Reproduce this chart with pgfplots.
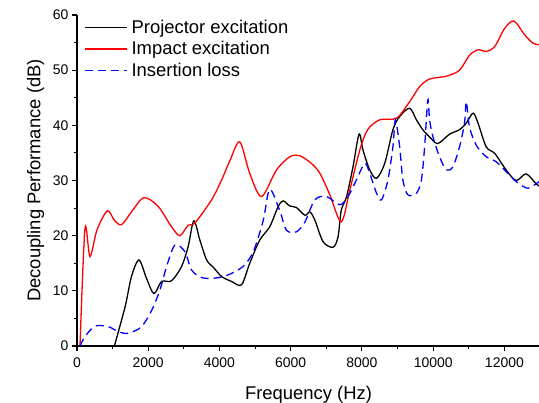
\documentclass[border=0pt]{standalone}
\usepackage{fontspec}
\setmainfont{Liberation Sans}
\usepackage{pgfplots}
\pgfplotsset{compat=1.18}

\begin{document}
\begin{tikzpicture}
\begin{axis}[
    scale only axis,
    width=463bp, height=331bp,
    xmin=0, xmax=13000,
    ymin=0, ymax=60,
    axis lines=left,
    axis line style={-, line width=1.1bp},
    tick align=outside,
    tick style={line width=1.1bp, black},
    major tick length=5bp,
    minor tick length=3bp,
    xtick={0,2000,...,12000},
    minor xtick={1000,3000,...,13000},
    ytick={0,10,...,60},
    minor ytick={5,15,...,55},
    scaled x ticks=false,
    /pgf/number format/assume math mode=true,
    /pgf/number format/set thousands separator={},
    tick label style={font=\fontsize{14}{16}\selectfont},
    xticklabel style={yshift=-3bp},
    label style={font=\fontsize{18.5}{20}\selectfont},
    xlabel={Frequency (Hz)},
    xlabel style={yshift=-12bp},
    ylabel={Decoupling Performance (dB)},
    ylabel style={yshift=2bp},
    legend cell align=left,
    legend style={at={(axis description cs:0,1)}, anchor=north west,
        xshift=4bp, yshift=-1bp, draw=none, fill=none,
        font=\fontsize{18.5}{20}\selectfont, row sep=2.5bp, column sep=2bp},
    legend image code/.code={\draw[#1, line width=1.4bp] (0bp,0bp) -- (42bp,0bp);},
    clip=true,
]
\addplot[black, line width=1.3bp, smooth] coordinates {
(1050,0)(1350,7.1)(1530,12.6)(1740,15.6)(1950,12.3)(2160,9.5)(2375,11.7)
(2650,11.8)(2935,14.4)(3120,18.0)(3280,22.7)(3450,19.2)(3640,15.6)(3825,14.3)
(4060,12.6)(4340,11.7)(4620,11.1)(4850,15.0)(5130,19.2)(5410,21.6)(5650,25.3)
(5790,26.3)(5970,25.4)(6160,25.1)(6400,23.7)(6540,24.3)(6680,22.8)(6910,18.9)
(7190,17.9)(7330,19.8)(7420,24.6)(7570,27.1)(7750,32.5)(7920,38.4)(8030,35.5)
(8220,31.9)(8410,30.4)(8640,33.1)(8870,39.2)(9060,41.6)(9340,43.1)(9530,41.0)
(9710,39.2)(9900,37.9)(10130,36.7)(10460,38.4)(10740,39.2)(10930,40.4)
(11120,42.2)(11260,40.4)(11490,36.1)(11730,34.9)(12050,31.9)(12330,30.0)
(12610,31.2)(12890,29.4)(13000,28.9)
};
\addlegendentry{Projector excitation}
\addplot[red, line width=1.3bp, smooth] coordinates {
(84,0)(224,21.3)(365,16.2)(560,21.0)(850,24.5)(1050,22.8)(1253,22.0)
(1550,24.5)(1880,26.9)(2280,25.3)(2655,21.6)(2890,20.0)(3120,21.9)(3310,22.3)
(3780,26.5)(4060,30.1)(4300,33.7)(4570,37.0)(4850,31.3)(5180,27.1)(5600,31.9)
(5975,34.3)(6250,34.5)(6580,33.1)(6820,31.3)(7100,27.4)(7420,22.5)(7660,28.3)
(7940,35.5)(8160,39.2)(8500,41.0)(8970,41.3)(9340,44.3)(9620,47.0)(9900,48.4)
(10370,48.9)(10740,50.0)(11020,52.7)(11260,53.7)(11490,53.4)(11730,54.3)
(12010,57.6)(12270,58.9)(12570,56.4)(12800,54.9)(13000,54.6)
};
\addlegendentry{Impact excitation}
\addplot[blue, line width=1.3bp, dash pattern=on 8bp off 5bp, smooth] coordinates {
(84,0)(224,1.7)(505,3.6)(880,3.5)(1160,2.6)(1440,2.3)(1810,3.5)(2100,6.5)
(2330,10.2)(2515,14.4)(2750,18.3)(3030,17.1)(3215,13.8)(3500,12.4)(3870,12.3)
(4250,12.9)(4660,14.4)(4950,17.1)(5230,22.8)(5410,28.4)(5690,24.6)(5880,21.0)
(6160,20.7)(6400,22.5)(6680,26.5)(7000,27.1)(7380,25.6)(7610,27.1)(7845,30.1)
(8080,33.1)(8220,31.3)(8410,27.7)(8550,26.5)(8730,30.1)(8870,36.1)(8940,41.0)
(9060,36.1)(9150,30.1)(9290,27.4)(9530,27.7)(9670,30.1)(9760,36.1)(9850,44.6)
(9900,41.0)(9995,37.9)(10180,34.3)(10370,31.9)(10555,32.5)(10740,36.1)
(10880,40.4)(10930,44.3)(11020,39.7)(11210,36.4)(11490,34.3)(11770,33.4)
(12050,31.6)(12330,29.8)(12660,28.6)(12970,29.8)
};
\addlegendentry{Insertion loss}
\end{axis}
\pgfresetboundingbox
\path[use as bounding box] (-77bp,-57bp) rectangle (462bp,346bp);
\end{tikzpicture}
\end{document}
